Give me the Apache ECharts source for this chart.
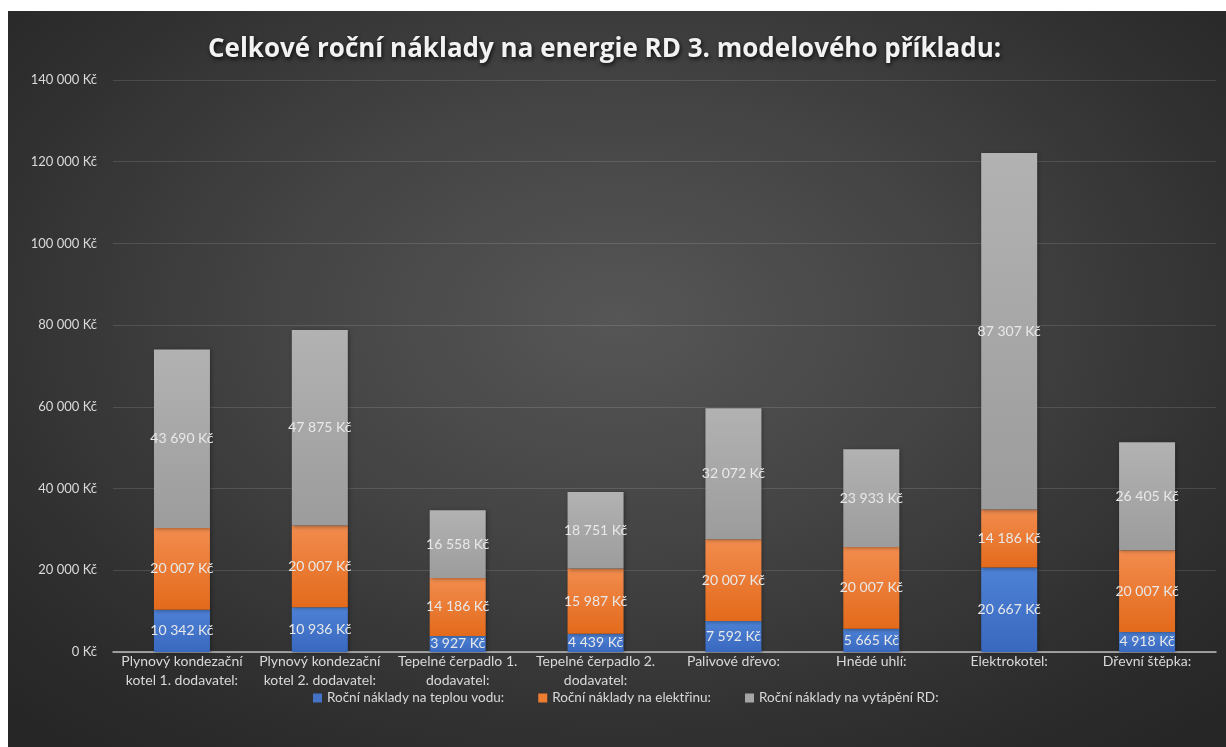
<!DOCTYPE html>
<html><head><meta charset="utf-8">
<script src="https://cdn.jsdelivr.net/npm/echarts@6/dist/echarts.min.js"></script>
<style>
html,body{margin:0;padding:0;background:#fff;width:1226px;height:747px;overflow:hidden}
#c{position:absolute;left:8px;top:11px;width:1218px;height:736px;
background:radial-gradient(ellipse 70% 75% at 50% 42%, #565656 0%, #444 40%, #2e2e2e 80%, #262626 100%);}
</style></head><body>
<div id="c"></div>
<script>
const categories = ["Plynový kondezační\nkotel 1. dodavatel:", "Plynový kondezační\nkotel 2. dodavatel:", "Tepelné čerpadlo 1.\ndodavatel:", "Tepelné čerpadlo 2.\ndodavatel:", "Palivové dřevo:", "Hnědé uhlí:", "Elektrokotel:", "Dřevní štěpka:"];
const seriesNames = ["Roční náklady na teplou vodu:", "Roční náklady na elektřinu:", "Roční náklady na vytápění RD:"];
const hotWater = [10342, 10936, 3927, 4439, 7592, 5665, 20667, 4918];
const electricity = [20007, 20007, 14186, 15987, 20007, 20007, 14186, 20007];
const heating = [43690, 47875, 16558, 18751, 32072, 23933, 87307, 26405];
const yTicks = [0, 20000, 40000, 60000, 80000, 100000, 120000, 140000];

function fmt(v){ return String(Math.round(v)).replace(/\B(?=(\d{3})+(?!\d))/g, ' ') + ' Kč'; }
const FONT = 'Lato, "Open Sans", sans-serif';
function grad(top, bottom){ return new echarts.graphic.LinearGradient(0,0,0,1,[{offset:0,color:top},{offset:1,color:bottom}]); }
const colors = [grad('#4d82d6','#3968bf'), grad('#f28c4e','#e36a1b'), grad('#b2b2b2','#9c9c9c')];
const legendColors = ['#4472c4','#ed7d31','#a5a5a5'];
const datasets = [hotWater, electricity, heating];

const chart = echarts.init(document.getElementById('c'), null, {renderer:'canvas'});
chart.setOption({
  backgroundColor: 'transparent',
  animation: false,
  color: legendColors,
  title: {
    text: 'Celkové roční náklady na energie RD 3. modelového příkladu:',
    left: 195, top: 21,
    textStyle: { color: '#f2f2f2', fontSize: 26, fontWeight: 'bold', fontFamily: '"Open Sans", Lato, sans-serif',
      textShadowColor: 'rgba(0,0,0,0.8)', textShadowBlur: 4, textShadowOffsetX: 1, textShadowOffsetY: 2 }
  },
  legend: {
    left: 305, top: 680, padding: 0,
    itemWidth: 9, itemHeight: 9, itemGap: 34, icon: 'rect',
    data: seriesNames.map((n,i)=>({name:n, itemStyle:{color:legendColors[i]}})),
    textStyle: { color: '#d9d9d9', fontSize: 13.5, fontFamily: FONT }
  },
  grid: { left: 105, right: 10, top: 69, bottom: 95, containLabel: false },
  xAxis: {
    type: 'category', data: categories,
    axisLine: { lineStyle: { color: '#bfbfbf', width: 1.5 } },
    axisTick: { show: false },
    axisLabel: { color: '#d9d9d9', fontSize: 14, fontFamily: FONT, margin: 0, lineHeight: 19, interval: 0 }
  },
  yAxis: {
    type: 'value', min: 0, max: 140000, interval: 20000,
    axisLine: { show: false }, axisTick: { show: false },
    splitLine: { lineStyle: { color: 'rgba(255,255,255,0.12)', width: 1.2 } },
    axisLabel: { color: '#d9d9d9', fontSize: 13, fontFamily: FONT, margin: 16,
      formatter: v => yTicks.includes(v) ? fmt(v) : '' }
  },
  series: datasets.map((d,i)=>({
    name: seriesNames[i], type: 'bar', stack: 'total', barWidth: 56,
    data: d,
    itemStyle: { color: colors[i], shadowColor: 'rgba(0,0,0,0.35)', shadowBlur: 4, shadowOffsetX: 1, shadowOffsetY: 1 },
    label: { show: true, position: 'inside', color: '#e8e8e8', fontSize: 14, fontFamily: FONT,
      formatter: p => fmt(p.value) }
  }))
});
</script>
</body></html>
